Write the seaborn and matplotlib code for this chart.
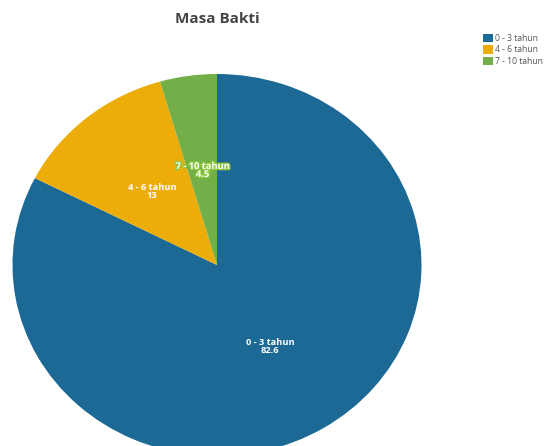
import matplotlib
matplotlib.use("Agg")
import matplotlib.pyplot as plt
import matplotlib.patheffects as pe
import seaborn as sns

categories = ["0 - 3 tahun", "4 - 6 tahun", "7 - 10 tahun"]
values = [82.6, 13, 4.5]
colors = ["#1D6996", "#EDAD08", "#73AF48"]

sns.set_theme(style="white")
plt.rcParams["font.family"] = ["Open Sans", "DejaVu Sans"]

W, H = 546, 446
fig = plt.figure(figsize=(W / 100, H / 100), dpi=100)

# pie is slightly squashed in the reference, so the axes box is the ellipse bbox
cx, cy, rx, ry = 217, 265, 204.5, 191
ax = fig.add_axes([(cx - rx) / W, (H - cy - ry) / H, 2 * rx / W, 2 * ry / H])

labels = [f"{c}\n{v:g}" for c, v in zip(categories, values)]
wedges, texts = ax.pie(
    values,
    colors=sns.color_palette(colors),
    startangle=90,
    counterclock=False,
    labels=labels,
    labeldistance=0.5,
    wedgeprops=dict(linewidth=0, edgecolor="none"),
    textprops=dict(color="white", fontsize=6.7, fontweight="bold",
                   ha="center", va="center", linespacing=0.85),
)
for t in texts:
    t.set_horizontalalignment("center")
# small slice label gets a light halo like the original
texts[2].set_path_effects([pe.withStroke(linewidth=2, foreground="#8cc63f")])

ax.set_aspect("auto")
ax.set_xlim(-1, 1)
ax.set_ylim(-1, 1)
ax.axis("off")
for w in wedges:
    w.set_clip_on(False)

fig.text(cx / W, 1 - 19 / H, "Masa Bakti", ha="center", va="center",
         fontsize=11, fontweight="bold", color="#444444")

fig.legend(wedges, categories, loc="upper left",
           bbox_to_anchor=(482 / W, 1 - 33 / H), frameon=False,
           fontsize=6.2, labelcolor="#555555", handlelength=1.15,
           handleheight=1.15, handletextpad=0.3, labelspacing=0.25,
           borderpad=0.1, borderaxespad=0)

fig.savefig("out.png", dpi=100)
